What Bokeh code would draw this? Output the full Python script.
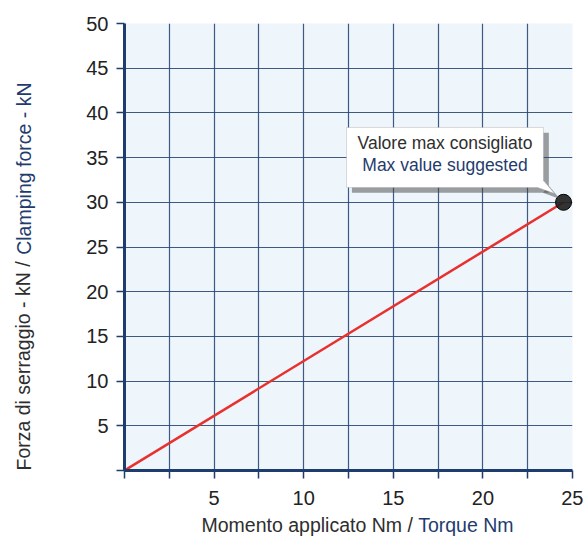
from bokeh.plotting import figure
from bokeh.models import FixedTicker, Label, BoxAnnotation, PolyAnnotation, Range1d
from bokeh.embed import file_html
from bokeh.resources import INLINE

# data
torque = [0, 24.5]
force = [0, 30]
max_point_x = [24.5]
max_point_y = [30]
x_ticks = [0, 2.5, 5, 7.5, 10, 12.5, 15, 17.5, 20, 22.5, 25]
y_ticks = [0, 5, 10, 15, 20, 25, 30, 35, 40, 45, 50]
x_labels = {0: "", 5: "5", 10: "10", 15: "15", 20: "20", 25: "25"}
x_title = ["Momento applicato Nm /", "Torque Nm"]
y_title = ["Forza di serraggio - kN /", "Clamping force - kN"]
callout = ["Valore max consigliato", "Max value suggested"]

FONT = "Liberation Sans"
NAVY = "#1f3c6e"
GRAY = "#2e2e2e"

p = figure(width=583, height=536, output_backend="svg", toolbar_location=None,
           x_range=Range1d(0, 25), y_range=Range1d(0, 50),
           frame_width=448, frame_height=447,
           min_border_left=124, min_border_right=11, min_border_top=23, min_border_bottom=66)
p.background_fill_color = "#eef6fc"
p.border_fill_color = "white"
p.outline_line_color = None

p.xaxis.ticker = FixedTicker(ticks=x_ticks)
p.yaxis.ticker = FixedTicker(ticks=y_ticks)
p.xaxis.major_label_overrides = {t: x_labels.get(t, "") for t in x_ticks}
p.yaxis.major_label_overrides = {0: ""}
p.xgrid.ticker = FixedTicker(ticks=x_ticks)
p.ygrid.ticker = FixedTicker(ticks=y_ticks)
for g in (p.xgrid, p.ygrid):
    g.grid_line_color = "#2a4874"
    g.grid_line_width = 1.2
    g.grid_line_alpha = 0.9

for ax in (p.xaxis, p.yaxis):
    ax.axis_line_color = NAVY
    ax.axis_line_width = 3
    ax.major_tick_line_color = NAVY
    ax.major_tick_line_width = 1.5
    ax.major_tick_out = 8
    ax.major_tick_in = 0
    ax.minor_tick_line_color = None
    ax.major_label_text_font = FONT
    ax.major_label_text_font_size = "20px"
    ax.major_label_text_color = "#222222"
    ax.major_label_standoff = 8
p.xaxis.major_label_standoff = 12

# line and point
p.line(torque, force, line_color="#e8302f", line_width=2.5)
p.scatter(max_point_x, max_point_y, size=16, fill_color="#222222", line_color="#000000",
          fill_alpha=0.92)

# callout (positioned relative to the max point)
px0, py0 = max_point_x[0], max_point_y[0]
bx0, bx1 = px0 - 12.11, px0 - 1.12
by0, by1 = py0 + 1.66, py0 + 8.37
tri_x = [bx1, px0 - 0.5, bx1 - 0.33]
tri_y = [py0 + 2.44, py0 + 0.98, by0]
sdx, sdy = 0.3, -0.6
p.add_layout(BoxAnnotation(left=bx0 + sdx, right=bx1 + sdx, bottom=by0 + sdy, top=by1 + sdy,
                           fill_color="#444444", fill_alpha=0.5, line_color=None))
p.add_layout(PolyAnnotation(xs=[v + sdx for v in tri_x], ys=[v + sdy for v in tri_y],
                            fill_color="#444444", fill_alpha=0.5, line_color=None))
p.add_layout(BoxAnnotation(left=bx0, right=bx1, bottom=by0, top=by1,
                           fill_color="white", fill_alpha=1, line_color="#909090", line_width=1))
p.add_layout(PolyAnnotation(xs=tri_x, ys=tri_y,
                            fill_color="white", fill_alpha=1, line_color="#909090", line_width=1))
p.add_layout(BoxAnnotation(left=bx1 - 0.9, right=bx1 - 0.05, bottom=by0 + 0.05, top=by0 + 0.9,
                           fill_color="white", fill_alpha=1, line_color=None))
cx = (bx0 + bx1) / 2
p.add_layout(Label(x=cx, y=py0 + 6.58, text=callout[0], text_align="center",
                   text_baseline="middle", text_font=FONT, text_font_size="17.5px", text_color=GRAY))
p.add_layout(Label(x=cx, y=py0 + 4.12, text=callout[1], text_align="center",
                   text_baseline="middle", text_font=FONT, text_font_size="17.5px", text_color=NAVY))

# axis titles (two colours), placed in side panels so they are not clipped to the frame
p.add_layout(Label(x=201, y=524, x_units="canvas", y_units="canvas", text=x_title[0],
                   text_align="left", text_baseline="middle",
                   text_font=FONT, text_font_size="19.5px", text_color=GRAY), "below")
p.add_layout(Label(x=513, y=524, x_units="canvas", y_units="canvas", text=x_title[1],
                   text_align="right", text_baseline="middle",
                   text_font=FONT, text_font_size="19.5px", text_color=NAVY), "below")
p.add_layout(Label(x=23, y=470, x_units="canvas", y_units="canvas", text=y_title[0],
                   angle=1.5708, text_align="left", text_baseline="middle",
                   text_font=FONT, text_font_size="19.5px", text_color=GRAY), "left")
p.add_layout(Label(x=23, y=82, x_units="canvas", y_units="canvas", text=y_title[1],
                   angle=1.5708, text_align="right", text_baseline="middle",
                   text_font=FONT, text_font_size="19.5px", text_color=NAVY), "left")

open("out.html", "w").write(file_html(p, INLINE))
